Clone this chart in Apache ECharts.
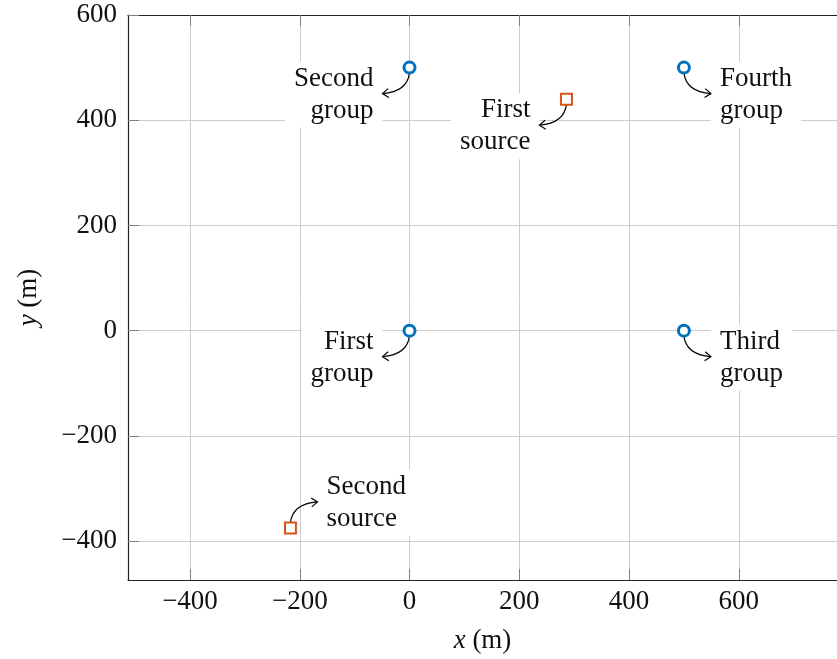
<!DOCTYPE html>
<html>
<head>
<meta charset="utf-8">
<script src="https://cdn.jsdelivr.net/npm/echarts@6/dist/echarts.min.js"></script>
<style>
  html, body { margin: 0; padding: 0; background: #fff; }
  #chart { width: 837px; height: 659px; }
</style>
</head>
<body>
<div id="chart"></div>
<script>
// Receiver groups (blue circles)
const groupX = [0, 0, 500, 500];
const groupY = [0, 500, 0, 500];
const groupNames = ['First\ngroup', 'Second\ngroup', 'Third\ngroup', 'Fourth\ngroup'];

// Sources (orange squares)
const sourceX = [286, -217];
const sourceY = [440, -375];
const sourceNames = ['First\nsource', 'Second\nsource'];

// Tick values on both axes
const xTicks = [-400, -200, 0, 200, 400, 600];
const yTicks = [-400, -200, 0, 200, 400, 600];

// Where each pin label sits relative to its point
const groupPins = ['lowerLeft', 'lowerLeft', 'lowerRight', 'lowerRight'];
const sourcePins = ['lowerLeft', 'upperRight'];

const FONT = '"Liberation Serif", "Times New Roman", serif';
const FS = 27;
const BLUE = '#0072BD';
const ORANGE = '#D95319';

const fmt = v => (v < 0 ? '\u2212' + Math.abs(v) : String(v));

// Pin annotations: curved arrow from the point to a boxed label
const pinData = [];
groupX.forEach((x, i) => pinData.push([x, groupY[i], groupNames[i], groupPins[i]]));
sourceX.forEach((x, i) => pinData.push([x, sourceY[i], sourceNames[i], sourcePins[i]]));

function renderPin(params, api) {
  const d = pinData[params.dataIndex];
  const p = api.coord([d[0], d[1]]);
  const place = d[3];
  const sx = place.indexOf('Left') >= 0 ? -1 : 1;
  const sy = place.indexOf('lower') === 0 ? 1 : -1;
  const x0 = p[0], y0 = p[1] + sy * 5;
  const x1 = p[0] + sx * 27, y1 = p[1] + sy * 26;
  const cx = x0 + sx * 2, cy = y1 - sy * 2;
  // arrow head direction (tangent at end)
  let dx = x1 - cx, dy = y1 - cy;
  const len = Math.hypot(dx, dy) || 1;
  dx /= len; dy /= len;
  const hl = 6, hw = 4.5;
  const bx = x1 - dx * hl, by = y1 - dy * hl;
  const px = -dy, py = dx;
  return {
    type: 'group',
    children: [
      {
        type: 'text',
        z2: 1,
        style: {
          text: d[2],
          x: p[0] + sx * 27,
          y: p[1] + sy * 26 + 1,
          align: sx < 0 ? 'right' : 'left',
          verticalAlign: 'middle',
          font: FS + 'px ' + FONT,
          fill: '#111',
          lineHeight: 32,
          backgroundColor: '#fff',
          padding: [1, 9]
        }
      },
      {
        type: 'bezierCurve',
        z2: 2,
        shape: { x1: x0, y1: y0, x2: x1, y2: y1, cpx1: cx, cpy1: cy },
        style: { stroke: '#000', lineWidth: 1.2, fill: null }
      },
      {
        type: 'polyline',
        z2: 2,
        shape: {
          points: [
            [bx + px * hw, by + py * hw],
            [x1, y1],
            [bx - px * hw, by - py * hw]
          ]
        },
        style: { stroke: '#000', lineWidth: 1.2, fill: null }
      }
    ]
  };
}

const chart = echarts.init(document.getElementById('chart'), null, { renderer: 'canvas' });

const axisCommon = {
  type: 'value',
  axisLine: { show: true, onZero: false, lineStyle: { color: '#222', width: 1.2 } },
  axisTick: { show: true, inside: true, length: 11, lineStyle: { color: '#808080', width: 1 } },
  splitLine: { show: true, lineStyle: { color: '#cccccc', width: 1 } },
  axisLabel: {
    color: '#111', fontFamily: FONT, fontSize: FS, formatter: fmt
  }
};

chart.setOption({
  animation: false,
  backgroundColor: '#fff',
  grid: { left: 128, top: 15, right: 0, bottom: 73, containLabel: false },
  xAxis: [
    Object.assign({}, axisCommon, {
      position: 'bottom',
      min: -513, max: 779,
      axisTick: Object.assign({}, axisCommon.axisTick, { customValues: xTicks }),
      axisLabel: Object.assign({}, axisCommon.axisLabel, { customValues: xTicks, margin: 8 }),
      name: '{i|x} (m)',
      nameLocation: 'middle',
      nameGap: 47,
      nameTextStyle: {
        fontFamily: FONT, fontSize: FS, color: '#111',
        rich: { i: { fontFamily: FONT, fontSize: FS, fontStyle: 'italic', color: '#111' } }
      }
    }),
    Object.assign({}, axisCommon, {
      position: 'top',
      min: -513, max: 779,
      axisTick: Object.assign({}, axisCommon.axisTick, { customValues: xTicks }),
      axisLabel: { show: false },
      splitLine: { show: false }
    })
  ],
  yAxis: [
    Object.assign({}, axisCommon, {
      position: 'left',
      min: -474, max: 600,
      axisTick: Object.assign({}, axisCommon.axisTick, { customValues: yTicks }),
      axisLabel: Object.assign({}, axisCommon.axisLabel, { customValues: yTicks, margin: 11 }),
      name: '{i|y} (m)',
      nameLocation: 'middle',
      nameGap: 86,
      nameTextStyle: {
        fontFamily: FONT, fontSize: FS, color: '#111',
        rich: { i: { fontFamily: FONT, fontSize: FS, fontStyle: 'italic', color: '#111' } }
      }
    })
  ],
  series: [
    {
      type: 'custom',
      coordinateSystem: 'cartesian2d',
      xAxisIndex: 0, yAxisIndex: 0,
      data: pinData.map(d => [d[0], d[1]]),
      renderItem: renderPin,
      z: 3,
      silent: true,
      clip: false
    },
    {
      name: 'Groups',
      type: 'scatter',
      xAxisIndex: 0, yAxisIndex: 0,
      data: groupX.map((x, i) => [x, groupY[i]]),
      symbol: 'circle',
      symbolSize: 11,
      itemStyle: { color: '#fff', borderColor: BLUE, borderWidth: 3, opacity: 1 },
      z: 5
    },
    {
      name: 'Sources',
      type: 'scatter',
      xAxisIndex: 0, yAxisIndex: 0,
      data: sourceX.map((x, i) => [x, sourceY[i]]),
      symbol: 'rect',
      symbolSize: 11,
      itemStyle: { color: '#fff', borderColor: ORANGE, borderWidth: 2, opacity: 1 },
      z: 5
    }
  ]
});
</script>
</body>
</html>
